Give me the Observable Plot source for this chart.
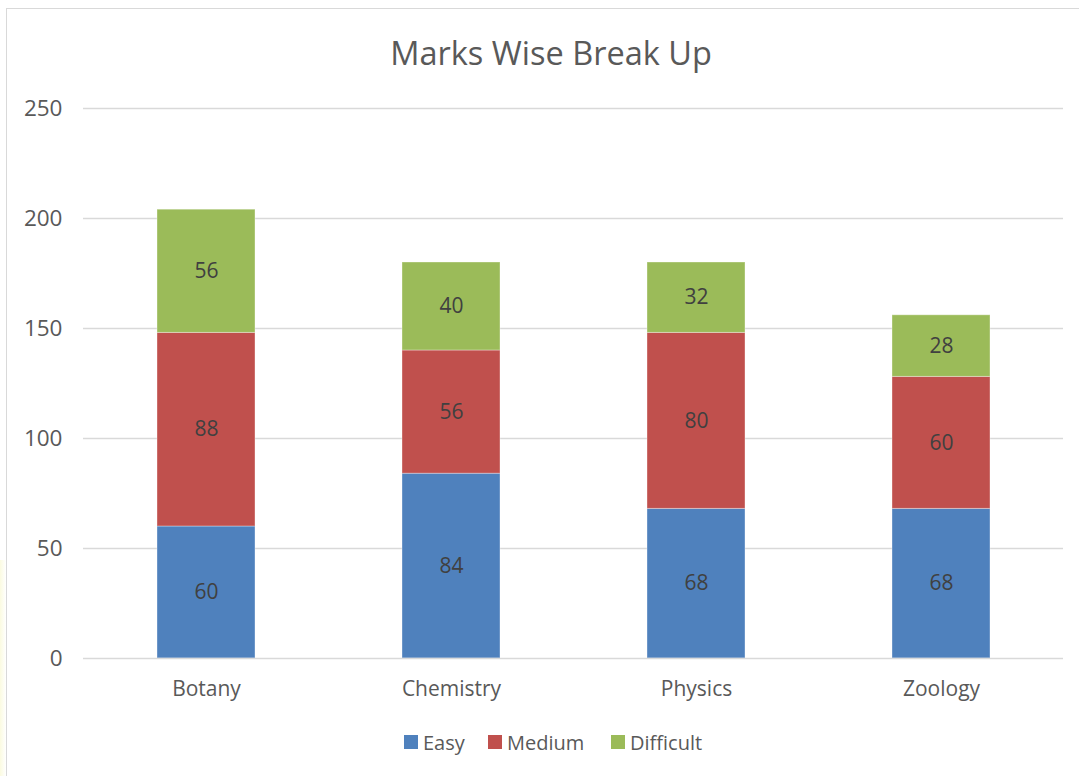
<!DOCTYPE html>
<html><head><meta charset="utf-8">
<script src="https://cdn.jsdelivr.net/npm/d3@7"></script>
<script src="https://cdn.jsdelivr.net/npm/@observablehq/plot@0.6"></script>
<style>
body{margin:0;background:#fff;font-family:"Open Sans",sans-serif;overflow:hidden;width:1079px;height:776px;position:relative}
#frame{position:absolute;left:6px;top:8px;width:1100px;height:800px;border:1.5px solid #d9d9d9;box-sizing:border-box}
#glow{position:absolute;left:0;top:560px;width:6px;height:216px;background:linear-gradient(to right,#fbfbe0,#fff)}
#title{position:absolute;left:0;width:1102px;top:30px;text-align:center;font-size:32.5px;color:#595959}
#chart{position:absolute;left:0;top:0}
#legend{position:absolute;top:729px;left:0;width:1079px;height:26px;font-size:20px;color:#595959}
.li{position:absolute;top:0;display:flex;align-items:center;height:26px}
.sw{width:14px;height:14px;margin-right:5px}
</style></head>
<body>
<div id="glow"></div>
<div id="frame"></div>
<div id="title">Marks Wise Break Up</div>
<div id="chart"></div>
<div id="legend"></div>
<script>
const subjects = ["Botany", "Chemistry", "Physics", "Zoology"];
const levels = ["Easy", "Medium", "Difficult"];
const easy = [60, 84, 68, 68];
const medium = [88, 56, 80, 60];
const difficult = [56, 40, 32, 28];
const yTicks = [0, 50, 100, 150, 200, 250];
const colors = ["#4f81bd", "#c0504d", "#9bbb59"];

const series = [easy, medium, difficult];
const data = [];
subjects.forEach((s, i) => levels.forEach((l, j) => data.push({subject: s, level: l, value: series[j][i]})));

const plot = Plot.plot({
  width: 1079, height: 776,
  marginTop: 108, marginBottom: 118, marginLeft: 83, marginRight: 16,
  style: {fontFamily: "'Open Sans', sans-serif", fontSize: "20px", color: "#595959", background: "transparent"},
  x: {domain: subjects, paddingInner: 0.6, paddingOuter: 0.3, label: null},
  y: {domain: [0, 250], label: null},
  color: {domain: levels, range: colors},
  marks: [
    Plot.ruleY(yTicks.filter(d => d > 0), {stroke: "#d9d9d9", strokeWidth: 1.5}),
    Plot.barY(data, {x: "subject", y: "value", fill: "level", z: "level", order: levels, stroke: "#ffffff", strokeOpacity: 0.35, strokeWidth: 1}),
    Plot.ruleY([0], {stroke: "#d9d9d9", strokeWidth: 1.5}),
    Plot.text(data, Plot.stackY({x: "subject", y: "value", z: "level", order: levels, text: "value", fill: "#404040", fontSize: 21})),
    Plot.axisY(yTicks, {tickSize: 0, tickPadding: 21, fontSize: 22.5, fill: "#595959", label: null}),
    Plot.axisX({tickSize: 0, tickPadding: 23, fontSize: 21, fill: "#595959", label: null})
  ]
});
document.getElementById("chart").appendChild(plot);

const legendPos = [404, 488, 611];
const lg = document.getElementById("legend");
levels.forEach((l, i) => {
  const d = document.createElement("div");
  d.className = "li";
  d.style.left = legendPos[i] + "px";
  d.innerHTML = `<span class="sw" style="background:${colors[i]}"></span><span>${l}</span>`;
  lg.appendChild(d);
});
</script>
</body></html>
